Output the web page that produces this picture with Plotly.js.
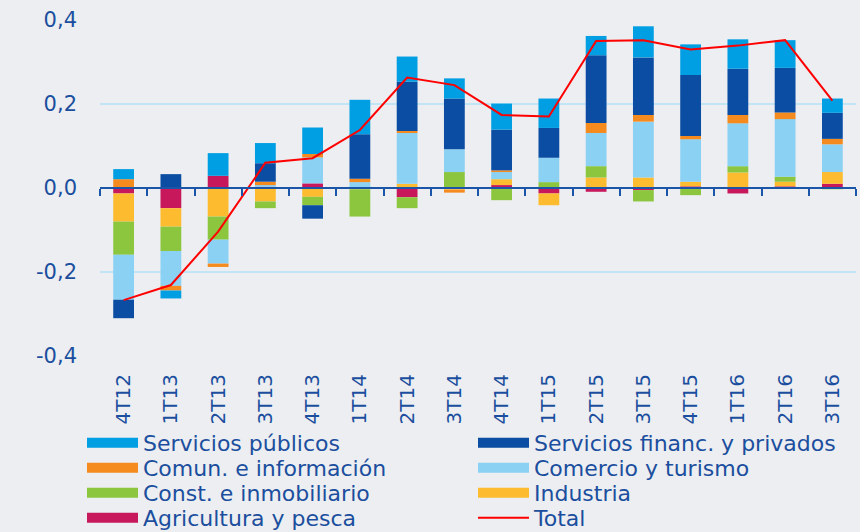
<!DOCTYPE html>
<html>
<head>
<meta charset="utf-8">
<script src="https://cdn.plot.ly/plotly-3.0.1.min.js"></script>
<style>html,body{margin:0;padding:0;background:#ECEEF1;}#chart{width:860px;height:532px;}</style>
</head>
<body>
<div id="chart"></div>
<script>
var categories = ['4T12','1T13','2T13','3T13','4T13','1T14','2T14','3T14','4T14','1T15','2T15','3T15','4T15','1T16','2T16','3T16'];

var agricultura = [-0.013,-0.048,0.029,0.003,0.011,0.000,-0.022,0.000,0.007,-0.013,-0.009,-0.005,0.004,-0.013,0.004,0.010];
var industria   = [-0.067,-0.044,-0.068,-0.032,-0.021,-0.003,0.010,-0.004,0.014,-0.028,0.025,0.025,0.011,0.037,0.011,0.028];
var construccion= [-0.079,-0.058,-0.055,-0.016,-0.020,-0.065,-0.026,0.038,-0.029,0.014,0.027,-0.027,-0.017,0.015,0.012,-0.003];
var comercio    = [-0.107,-0.083,-0.057,0.004,0.062,0.014,0.121,0.054,0.017,0.058,0.079,0.133,0.101,0.102,0.137,0.066];
var comunicacion= [0.021,-0.011,-0.008,0.008,0.008,0.008,0.005,-0.007,0.004,0.000,0.024,0.016,0.008,0.020,0.016,0.013];
var financieros = [-0.044,0.033,0.000,0.044,-0.032,0.106,0.117,0.121,0.097,0.071,0.161,0.137,0.145,0.110,0.106,0.062];
var publicos    = [0.024,-0.019,0.054,0.048,0.063,0.082,0.060,0.048,0.062,0.070,0.046,0.074,0.073,0.070,0.066,0.034];
var total       = [-0.267,-0.231,-0.104,0.060,0.071,0.138,0.263,0.245,0.174,0.170,0.350,0.352,0.330,0.339,0.352,0.208];

var yTickVals = [-0.4,-0.2,0,0.2,0.4];
var yTickText = ['-0,4','-0,2','0,0','0,2','0,4'];

var names = {
  pub: 'Servicios públicos', fin: 'Servicios financ. y privados', com: 'Comun. e información',
  cot: 'Comercio y turismo', con: 'Const. e inmobiliario', ind: 'Industria', agr: 'Agricultura y pesca', tot: 'Total'
};
var colors = {
  pub: '#009EE2', fin: '#0A4DA2', com: '#F58A1F', cot: '#8AD1F3', con: '#8CC63F', ind: '#FDBB30', agr: '#C8185C', tot: '#FF0000'
};
var textColor = '#1B4E9E';
var FONT = 'DejaVu Sans';

var stack = [
  ['agr', agricultura], ['ind', industria], ['con', construccion], ['cot', comercio],
  ['com', comunicacion], ['fin', financieros], ['pub', publicos]
];

var traces = [];
stack.forEach(function(s){
  traces.push({
    type: 'bar', x: categories, y: s[1], name: names[s[0]],
    marker: {color: colors[s[0]], line: {width: 0}},
    showlegend: false, hoverinfo: 'x+y+name'
  });
});

traces.push({
  type: 'scatter', mode: 'lines', x: categories, y: total, name: names.tot,
  xaxis: 'x2', yaxis: 'y',
  line: {color: colors.tot, width: 2}, showlegend: false
});

// legend entries (4 rows x 2 columns)
var legendRows = [['pub','fin'],['com','cot'],['con','ind'],['agr','tot']];
var legendIds = ['legend','legend2','legend3','legend4'];
legendRows.forEach(function(row, r){
  row.forEach(function(k){
    traces.push({
      type: 'scatter', mode: 'lines', x: [categories[0]], y: [null], name: names[k],
      line: {color: colors[k], width: k === 'tot' ? 2 : 10},
      legend: legendIds[r], showlegend: true, hoverinfo: 'skip'
    });
  });
});

function legendCfg(yTop){
  return {
    orientation: 'h', x: -0.0238, xanchor: 'left', y: yTop, yanchor: 'top',
    bgcolor: 'rgba(0,0,0,0)', borderwidth: 0,
    itemwidth: 51, entrywidthmode: 'pixels', entrywidth: 325,
    font: {family: FONT, size: 22, color: textColor},
    itemclick: false, itemdoubleclick: false
  };
}

var layout = {
  width: 860, height: 532,
  paper_bgcolor: '#ECEEF1', plot_bgcolor: '#ECEEF1',
  margin: {l: 100, r: 4, t: 20, b: 176, autoexpand: false},
  barmode: 'relative', bargap: 0.56,
  font: {family: FONT, color: textColor},
  xaxis: {
    type: 'category', categoryorder: 'array', categoryarray: categories,
    range: [-0.5, 15.5], tickangle: -90, ticks: '', showgrid: false, showline: false,
    zeroline: false, ticklabelstandoff: 13,
    tickfont: {family: FONT, size: 20, color: textColor}
  },
  xaxis2: {
    type: 'category', categoryorder: 'array', categoryarray: categories,
    range: [-0.5, 15.5], overlaying: 'x', anchor: 'free', position: 0.5, side: 'bottom',
    showticklabels: false, showgrid: false, zeroline: false,
    showline: true, linecolor: '#1A55A8', linewidth: 2,
    ticks: 'outside', tickson: 'boundaries', ticklen: 7, tickwidth: 2, tickcolor: '#1A55A8'
  },
  yaxis: {
    range: [-0.4, 0.4], tickvals: yTickVals, ticktext: yTickText,
    showgrid: true, gridcolor: '#C2E5F6', gridwidth: 2, zeroline: false, showline: false,
    ticks: '', ticklabelstandoff: 22,
    tickfont: {family: FONT, size: 21, color: textColor}
  },
  legend: legendCfg(-0.1964),
  legend2: legendCfg(-0.2708),
  legend3: legendCfg(-0.3452),
  legend4: legendCfg(-0.4196),
  showlegend: true
};

Plotly.newPlot('chart', traces, layout, {displayModeBar: false, staticPlot: true});
</script>
</body>
</html>
